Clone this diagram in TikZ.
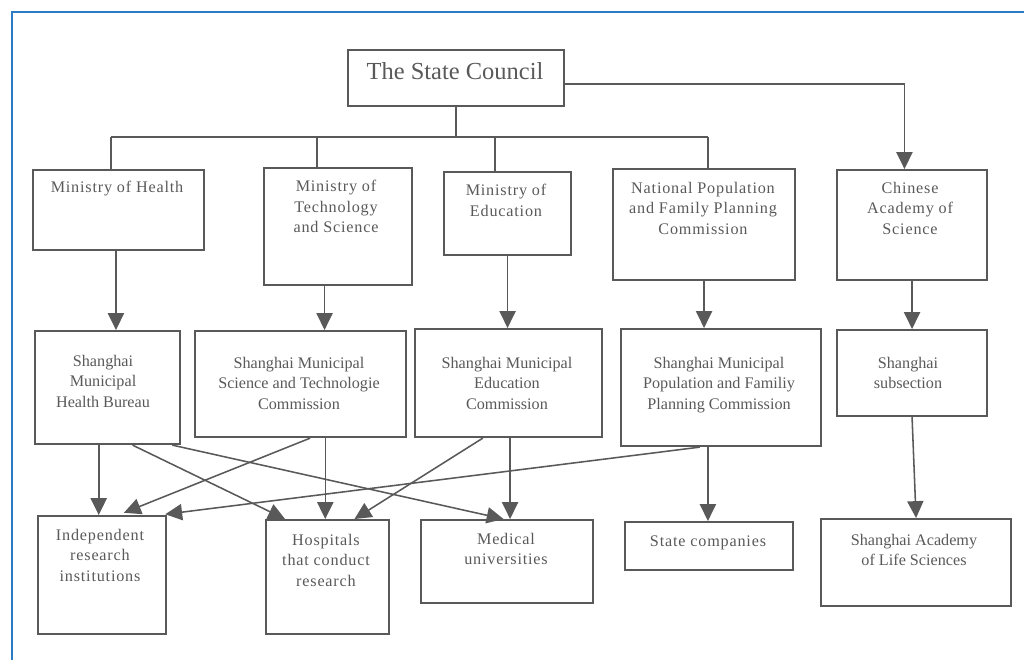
\documentclass[tikz,border=0pt]{standalone}
\usepackage{fontspec}
\setmainfont{Liberation Serif}
\newfontfamily\spacedfont[LetterSpace=5]{Liberation Serif}
\usetikzlibrary{arrows.meta,calc}
\definecolor{linegray}{HTML}{595959}
\definecolor{frameblue}{HTML}{2B7CC2}

\begin{document}
\begin{tikzpicture}[x=0.025cm, y=-0.025cm,
    box/.style 2 args={draw=linegray, line width=1.5pt, minimum width=#1*0.025cm,
      minimum height=#2*0.025cm, inner sep=0pt, anchor=north west},
    lbl/.style={anchor=north, inner sep=0pt, align=center, text=linegray,
      font=\fontsize{11.5}{14.5}\selectfont},
    slbl/.style={lbl, font=\spacedfont\fontsize{11.5}{14.5}\selectfont},
    conn/.style={draw=linegray, line width=1.1pt},
    arr/.style={conn, -{Triangle[width=11.5pt,length=12pt]}}]

    \useasboundingbox (0,0) rectangle (1024,660);

    % frame
    \draw[frameblue, line width=1.5pt] (12,660) -- (12,12) -- (1024,12);

    % State Council
    \node[box={216}{56}] (sc) at (347,49) {};
    \node[lbl, font=\fontsize{17.4}{20}\selectfont] (sc-t) at (455,62) {The State Council};

    % Ministries
    \node[box={171}{80}] (moh) at (32,169) {};
    \node[box={148}{117}] (mot) at (263,167) {};
    \node[box={127}{83}] (moe) at (443,171) {};
    \node[box={182}{111}] (npf) at (612,168) {};
    \node[box={150}{110}] (cas) at (836,169) {};
    \node[slbl] (moh-t) at (117,181) {Ministry of Health};
    \node[slbl] (mot-t) at (336,180) {Ministry of\\Technology\\and Science};
    \node[slbl] (moe-t) at (506,184) {Ministry of\\Education};
    \node[slbl] (npf-t) at (703,182) {National Population\\and Family Planning\\Commission};
    \node[slbl] (cas-t) at (910,182) {Chinese\\Academy of\\Science};

    % Shanghai offices
    \node[box={145}{113}] (hb) at (34,330) {};
    \node[box={211}{106}] (sm) at (194,330) {};
    \node[box={187}{108}] (edc) at (414,328) {};
    \node[box={200}{117}] (pf) at (620,328) {};
    \node[box={150}{86}] (ss) at (836,329) {};
    \node[lbl] (hb-t) at (103,355) {Shanghai\\Municipal\\Health Bureau};
    \node[lbl] (sm-t) at (299,357) {Shanghai Municipal\\Science and Technologie\\Commission};
    \node[lbl] (edc-t) at (507,357) {Shanghai Municipal\\Education\\Commission};
    \node[lbl] (pf-t) at (719,357) {Shanghai Municipal\\Population and Familiy\\Planning Commission};
    \node[lbl] (ss-t) at (908,357) {Shanghai\\subsection};

    % Research bodies
    \node[box={128}{118}] (ist) at (37,515) {};
    \node[box={123}{114}] (hosp) at (265,519) {};
    \node[box={172}{83}] (med) at (420,519) {};
    \node[box={168}{48}] (stc) at (624,521) {};
    \node[box={190}{87}] (sla) at (820,518) {};
    \node[slbl] (ist-t) at (100,529) {Independent\\research\\institutions};
    \node[slbl] (hosp-t) at (326,534) {Hospitals\\that conduct\\research};
    \node[slbl] (med-t) at (506,533) {Medical\\universities};
    \node[slbl] (stc-t) at (708,535) {State companies};
    \node[lbl] (sla-t) at (914,534) {Shanghai Academy\\of Life Sciences};

    % State Council to ministries
    \coordinate (busL) at (111,137);
    \coordinate (busR) at (708,137);
    \coordinate (dropB) at (317,137);
    \coordinate (dropC) at (495,137);
    \draw[conn] (sc.south) -- (sc.south |- busL);
    \draw[conn] (busL) -- (busR);
    \draw[conn] (busL) -- (busL |- moh.north);
    \draw[conn] (dropB) -- (dropB |- mot.north);
    \draw[conn] (dropC) -- (dropC |- moe.north);
    \draw[conn] (busR) -- (busR |- npf.north);
    \draw[arr] ([yshift=-0.15cm]sc.east) -| ($(cas.north west)!0.45!(cas.north east)$);

    % ministries to Shanghai offices
    \draw[arr] ($(moh.south west)!0.485!(moh.south east)$) coordinate (a1) -- (a1 |- hb.north);
    \draw[arr] ($(mot.south west)!0.41!(mot.south east)$) coordinate (a2) -- (a2 |- sm.north);
    \draw[arr] (moe.south) -- (moe.south |- edc.north);
    \draw[arr] (npf.south) -- (npf.south |- pf.north);
    \draw[arr] (cas.south) -- (cas.south |- ss.north);

    % Shanghai offices to research bodies
    \draw[arr] ($(hb.south west)!0.44!(hb.south east)$) coordinate (b1) -- (b1 |- ist.north);
    \draw[arr] ($(hb.south west)!0.67!(hb.south east)$) -- ($(hosp.north west)!0.16!(hosp.north east)$);
    \draw[arr] ($(hb.south west)!0.94!(hb.south east)$) -- ($(med.north west)!0.48!(med.north east)$);
    \draw[arr, shorten >=0.15cm] ($(sm.south west)!0.545!(sm.south east)$) -- ($(ist.north west)!0.625!(ist.north east)$);
    \draw[arr] ($(sm.south west)!0.616!(sm.south east)$) coordinate (b2) -- (b2 |- hosp.north);
    \draw[arr] ($(edc.south west)!0.364!(edc.south east)$) -- ($(hosp.north west)!0.715!(hosp.north east)$);
    \draw[arr] ($(edc.south west)!0.508!(edc.south east)$) coordinate (b3) -- (b3 |- med.north);
    \draw[arr, shorten >=0.15cm] ($(pf.south west)!0.395!(pf.south east)$) -- ($(ist.north west)!0.94!(ist.north east)$);
    \draw[arr] ($(pf.south west)!0.435!(pf.south east)$) coordinate (b4) -- (b4 |- stc.north);
    \draw[arr] (ss.south) -- (sla.north);
\end{tikzpicture}
\end{document}
